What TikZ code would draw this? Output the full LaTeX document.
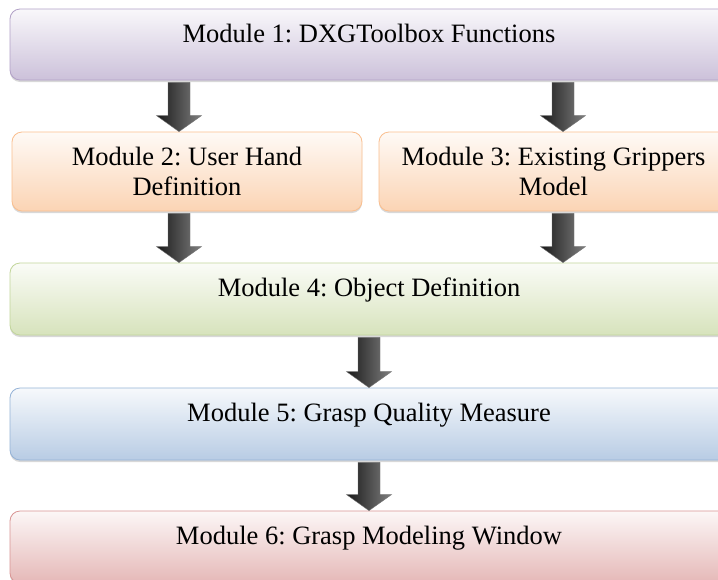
\documentclass[tikz,border=0pt]{standalone}
\usepackage{fontspec}
\setmainfont{Liberation Serif}
\usepackage{xcolor}
\usepackage{tikz}
\usetikzlibrary{calc, shadows, positioning}
\tikzset{
    modulenode/.style = {draw, rectangle, rounded corners=10pt, inner sep = 0em, 
      node distance=0em, line width=0.8pt, font=\fontsize{26.5}{30}\selectfont\frenchspacing,
      drop shadow={shadow xshift=0pt, shadow yshift=-2pt, opacity=0.3}},
    onelinenode/.style = {modulenode, text height=17pt, text depth=22pt},
    blockarrowstyle/.style = {draw=black!55, line width=0.4pt, left color=black!90, right color=black!50},
    every text node part/.style={align=center}
}
\definecolor{purpleline}{RGB}{178, 161, 199}
\definecolor{purplefill}{RGB}{204, 193, 218}
\definecolor{orangeline}{RGB}{250, 191, 143}
\definecolor{orangefill}{RGB}{251, 212, 180}
\definecolor{greenline}{RGB}{194, 214, 155}
\definecolor{greenfill}{RGB}{215, 227, 188}
\definecolor{blueline}{RGB}{149, 179, 215}
\definecolor{bluefill}{RGB}{184, 204, 228}
\definecolor{redline}{RGB}{217, 149, 148}
\definecolor{redfill}{RGB}{229, 184, 183}
% block arrow from #1 down to #2
\newcommand{\blockarrow}[2]{%
  \path[blockarrowstyle] ($(#1)+(-11,2)$) -- ($(#2)+(-11,-16)$) -- ($(#2)+(-22.5,-16)$) 
    -- (#2) -- ($(#2)+(22.5,-16)$) -- ($(#2)+(11,-16)$) -- ($(#1)+(11,2)$) -- cycle;}

\begin{document}
\begin{tikzpicture}[x=1pt, y=-1pt]
\useasboundingbox[fill=white] (0,0) rectangle (718,579);

\node[onelinenode, name=m1, minimum width=718pt, minimum height=71pt, 
	draw=purpleline, top color=purplefill!12, bottom color=purplefill] at (369,44.5) {Module 1: DXGToolbox Functions};

\node[modulenode, name=m2, below of = m1, xshift=-182pt, yshift=-127pt, 
	minimum width=350pt, minimum height=79pt, 
	draw=orangeline, top color=orangefill!12, bottom color=orangefill] {Module 2: User Hand\\Definition};
\node[modulenode, name=m3, right of = m2, xshift=366.5pt, 
	minimum width=349pt, minimum height=79pt, 
	draw=orangeline, top color=orangefill!12, bottom color=orangefill] {Module 3: Existing Grippers\\Model};

\node[onelinenode, name=m4, below of = m1, yshift=-254.5pt, 
	minimum width=718pt, minimum height=72pt, 
	draw=greenline, top color=greenfill!12, bottom color=greenfill] {Module 4: Object Definition};

\node[onelinenode, name=m5, below of = m4, yshift=-125pt, 
	minimum width=718pt, minimum height=72pt, 
	draw=blueline, top color=bluefill!12, bottom color=bluefill] {Module 5: Grasp Quality Measure};

\node[onelinenode, name=m6, below of = m5, yshift=-123pt, 
	minimum width=718pt, minimum height=72pt, 
	draw=redline, top color=redfill!12, bottom color=redfill] {Module 6: Grasp Modeling Window};

% arrow columns
\coordinate (colL) at (179,0);
\coordinate (colR) at (563,0);

\blockarrow{m1.south -| colL}{m2.north -| colL}
\blockarrow{m1.south -| colR}{m3.north -| colR}
\blockarrow{m2.south -| colL}{m4.north -| colL}
\blockarrow{m3.south -| colR}{m4.north -| colR}
\blockarrow{m4.south}{m5.north}
\blockarrow{m5.south}{m6.north}
\end{tikzpicture}
\end{document}
